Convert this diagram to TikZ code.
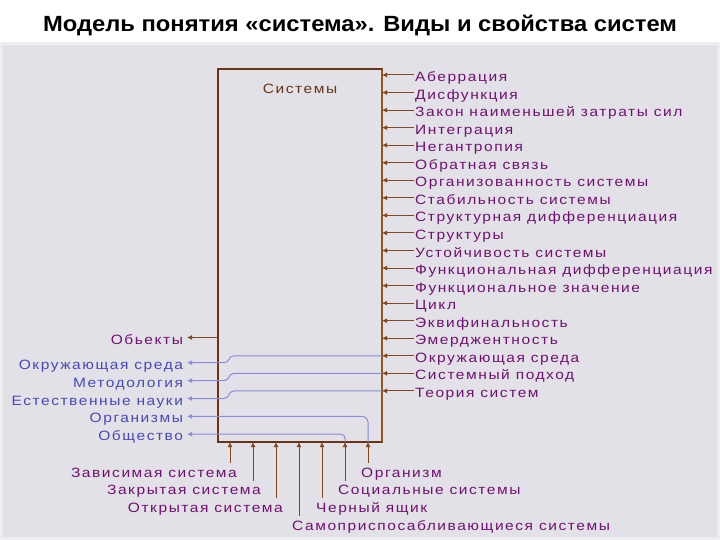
\documentclass[tikz,border=0pt]{standalone}
\usepackage{fontspec}
\setmainfont{Liberation Sans}
\newfontfamily\diagfont[LetterSpace=11.5, FakeStretch=1.15]{Liberation Sans}
\newfontfamily\titlefont[FakeStretch=1.08]{Liberation Sans}
\usetikzlibrary{arrows.meta}
\definecolor{panelGrey}{RGB}{225,225,231}
\definecolor{frameGrey}{RGB}{238,238,241}
\definecolor{boxBrown}{RGB}{105,52,22}
\definecolor{edgeBrown}{RGB}{140,85,35}
\definecolor{arrowBrown}{RGB}{135,70,25}
\definecolor{labelPurple}{RGB}{115,15,115}
\definecolor{labelBlue}{RGB}{72,72,190}
\definecolor{lineBlue}{RGB}{138,138,222}

\tikzset{
  lbl/.style={inner sep=1pt, text height=13pt, text depth=0pt,
    font=\diagfont\fontsize{13.5}{15}\selectfont, text=labelPurple},
  rlbl/.style={lbl, anchor=west},
  llbl/.style={lbl, anchor=east, outer sep=3pt, text=labelBlue},
  brownarrow/.style={arrowBrown, line width=1pt, -{Latex[length=5pt,width=5pt]}},
  bluearrow/.style={lineBlue, line width=1pt, -{Latex[length=5pt,width=5pt]}},
}

\begin{document}
\begin{tikzpicture}[x=1pt, y=-1pt]
    \newcommand\rowstep{17.55}
    \newcommand\toprow{75}
    \newcommand\rlx{414}
    \newcommand\llx{187}

    \useasboundingbox (0,0) rectangle (720,540);
    \fill[white] (0,0) rectangle (720,540);
    \fill[frameGrey] (0,42) rectangle (720,540);
    \fill[panelGrey] (3,45) rectangle (717,537);

    \node[font=\titlefont\bfseries\fontsize{22}{24}\selectfont, anchor=base] (title) at (360,31.5)
        {Модель понятия «система». Виды и свойства систем};

    % main box
    \node[draw=boxBrown, line width=1.5pt, outer sep=0pt, inner sep=0pt,
          minimum width=164pt, minimum height=373pt, anchor=north west] (sys) at (218,69) {};
    \draw[edgeBrown, line width=2.5pt] (sys.north east) -- (sys.south east);
    \node[lbl, text=boxBrown] (systext) at (300,87) {Системы};

    % properties on the right
    \node[rlbl] (aber) at (\rlx, \toprow) {Аберрация};
    \node[rlbl] (disf) at (\rlx, \toprow+\rowstep) {Дисфункция};
    \node[rlbl] (zakon) at (\rlx, \toprow+2*\rowstep) {Закон наименьшей затраты сил};
    \node[rlbl] (integr) at (\rlx, \toprow+3*\rowstep) {Интеграция};
    \node[rlbl] (negent) at (\rlx, \toprow+4*\rowstep) {Негантропия};
    \node[rlbl] (feedback) at (\rlx, \toprow+5*\rowstep) {Обратная связь};
    \node[rlbl] (organiz) at (\rlx, \toprow+6*\rowstep) {Организованность системы};
    \node[rlbl] (stab) at (\rlx, \toprow+7*\rowstep) {Стабильность системы};
    \node[rlbl] (strdiff) at (\rlx, \toprow+8*\rowstep) {Структурная дифференциация};
    \node[rlbl] (struct) at (\rlx, \toprow+9*\rowstep) {Структуры};
    \node[rlbl] (ustoich) at (\rlx, \toprow+10*\rowstep) {Устойчивость системы};
    \node[rlbl] (fundiff) at (\rlx, \toprow+11*\rowstep) {Функциональная дифференциация};
    \node[rlbl] (funval) at (\rlx, \toprow+12*\rowstep) {Функциональное значение};
    \node[rlbl] (cycle) at (\rlx, \toprow+13*\rowstep) {Цикл};
    \node[rlbl] (equif) at (\rlx, \toprow+14*\rowstep) {Эквифинальность};
    \node[rlbl] (emerg) at (\rlx, \toprow+15*\rowstep) {Эмерджентность};
    \node[rlbl] (envR) at (\rlx, \toprow+16*\rowstep) {Окружающая среда};
    \node[rlbl] (sysappr) at (\rlx, \toprow+17*\rowstep) {Системный подход};
    \node[rlbl] (systheory) at (\rlx, \toprow+18*\rowstep) {Теория систем};

    \draw[brownarrow] (aber.west) -- (sys.east |- aber.west);
    \draw[brownarrow] (disf.west) -- (sys.east |- disf.west);
    \draw[brownarrow] (zakon.west) -- (sys.east |- zakon.west);
    \draw[brownarrow] (integr.west) -- (sys.east |- integr.west);
    \draw[brownarrow] (negent.west) -- (sys.east |- negent.west);
    \draw[brownarrow] (feedback.west) -- (sys.east |- feedback.west);
    \draw[brownarrow] (organiz.west) -- (sys.east |- organiz.west);
    \draw[brownarrow] (stab.west) -- (sys.east |- stab.west);
    \draw[brownarrow] (strdiff.west) -- (sys.east |- strdiff.west);
    \draw[brownarrow] (struct.west) -- (sys.east |- struct.west);
    \draw[brownarrow] (ustoich.west) -- (sys.east |- ustoich.west);
    \draw[brownarrow] (fundiff.west) -- (sys.east |- fundiff.west);
    \draw[brownarrow] (funval.west) -- (sys.east |- funval.west);
    \draw[brownarrow] (cycle.west) -- (sys.east |- cycle.west);
    \draw[brownarrow] (equif.west) -- (sys.east |- equif.west);
    \draw[brownarrow] (emerg.west) -- (sys.east |- emerg.west);
    \draw[brownarrow] (envR.west) -- (sys.east |- envR.west);
    \draw[brownarrow] (sysappr.west) -- (sys.east |- sysappr.west);
    \draw[brownarrow] (systheory.west) -- (sys.east |- systheory.west);

    % results on the left
    \node[llbl, text=labelPurple] (objL) at (\llx, 337.5) {Обьекты};
    \node[llbl] (envL) at (\llx, 362.7) {Окружающая среда};
    \node[llbl] (methL) at (\llx, 380.6) {Методология};
    \node[llbl] (natL) at (\llx, 398.5) {Естественные науки};
    \node[llbl] (orgsL) at (\llx, 416.4) {Организмы};
    \node[llbl] (socL) at (\llx, 434.2) {Общество};

    \draw[brownarrow] (sys.west |- objL.east) -- (objL.east);
    \draw[bluearrow] (sys.east |- envR.west) -- (234,355.8)
        .. controls (228,355.8) and (230,362.7) .. (224,362.7) -- (envL.east);
    \draw[bluearrow] (sys.east |- sysappr.west) -- (234,373.4)
        .. controls (228,373.4) and (230,380.6) .. (224,380.6) -- (methL.east);
    \draw[bluearrow] (sys.east |- systheory.west) -- (234,390.9)
        .. controls (228,390.9) and (230,398.5) .. (224,398.5) -- (natL.east);

    % kinds of systems below
    \coordinate (bDep) at (230,0);
    \coordinate (bClosed) at (253,0);
    \coordinate (bOpen) at (276,0);
    \coordinate (bSelf) at (299,0);
    \coordinate (bBlack) at (322,0);
    \coordinate (bSoc) at (345,0);
    \coordinate (bOrg) at (368,0);

    \node[lbl, anchor=base east] (dep) at (238,477) {Зависимая система};
    \node[lbl, anchor=base east] (closed) at (262,494.7) {Закрытая система};
    \node[lbl, anchor=base east] (open) at (284,512.3) {Открытая система};
    \node[lbl, anchor=base west] (selfadapt) at (291,530) {Самоприспосабливающиеся системы};
    \node[lbl, anchor=base west] (blackbox) at (315,512.3) {Черный ящик};
    \node[lbl, anchor=base west] (social) at (337,494.7) {Социальные системы};
    \node[lbl, anchor=base west] (organism) at (360,477) {Организм};

    \draw[brownarrow] (bDep |- dep.north) -- (bDep |- sys.south);
    \draw[brownarrow] (bClosed |- closed.north) -- (bClosed |- sys.south);
    \draw[brownarrow] (bOpen |- open.north) -- (bOpen |- sys.south);
    \draw[brownarrow] (bSelf |- selfadapt.north) -- (bSelf |- sys.south);
    \draw[brownarrow] (bBlack |- blackbox.north) -- (bBlack |- sys.south);
    \draw[brownarrow] (bSoc |- social.north) -- (bSoc |- sys.south);
    \draw[brownarrow] (bOrg |- organism.north) -- (bOrg |- sys.south);

    \draw[bluearrow, rounded corners=6pt] (bOrg |- sys.south) -- (bOrg |- orgsL.east) -- (orgsL.east);
    \draw[bluearrow, rounded corners=4pt] (bSoc |- sys.south) -- (bSoc |- socL.east) -- (socL.east);
\end{tikzpicture}
\end{document}
